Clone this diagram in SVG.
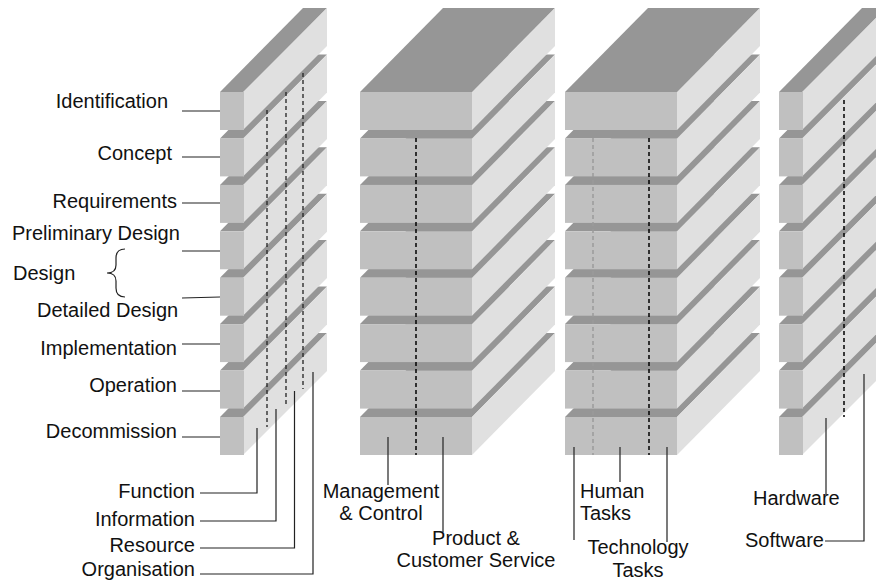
<svg xmlns="http://www.w3.org/2000/svg" width="876" height="581" viewBox="0 0 876 581">
  <style>
    .front { fill: #c0c0c0; }
    .top { fill: #969696; }
    .side { fill: #e0e0e0; }
    .lbl { font-family: "Liberation Sans", Arial, sans-serif; font-size: 20px; fill: #111; }
    .lead { stroke: #222; stroke-width: 1.2; fill: none; }
    .dash { stroke: #222; stroke-width: 1.3; stroke-dasharray: 4 3; fill: none; }
    .dash-k { stroke: #000; stroke-width: 1.5; stroke-dasharray: 4 3; fill: none; }
    .dash-g { stroke: #9a9a9a; stroke-width: 1.5; stroke-dasharray: 4 3; fill: none; }
  </style>
  <defs>
    <!-- narrow slab: front 23 wide, 38 high, depth 83 at 45 degrees -->
    <g id="slabN">
      <polygon class="top" points="0,0 83,-84 107,-84 24,0"/>
      <polygon class="side" points="23,0 107,-84 107,-46 23,38"/>
      <rect class="front" x="0" y="0" width="24" height="38"/>
    </g>
    <!-- wide slab: front 112 wide -->
    <g id="slabW">
      <polygon class="top" points="0,0 83,-84 195,-84 112,0"/>
      <polygon class="side" points="112,0 195,-84 195,-46 112,38"/>
      <rect class="front" x="0" y="0" width="112" height="38"/>
    </g>
  </defs>

  <!-- column 1: life cycle phases, four views -->
  <g id="col-phases">
    <use href="#slabN" x="220" y="417"/>
    <use href="#slabN" x="220" y="370.6"/>
    <use href="#slabN" x="220" y="324.1"/>
    <use href="#slabN" x="220" y="277.7"/>
    <use href="#slabN" x="220" y="231.3"/>
    <use href="#slabN" x="220" y="184.9"/>
    <use href="#slabN" x="220" y="138.4"/>
    <use href="#slabN" x="220" y="92"/>
    <line class="dash" x1="267" y1="110" x2="267" y2="427"/>
    <line class="dash" x1="286" y1="92" x2="286" y2="407"/>
    <line class="dash" x1="303" y1="73" x2="303" y2="389"/>
  </g>

  <!-- column 2: management / customer service -->
  <g id="col-purpose">
    <use href="#slabW" x="360" y="417"/>
    <use href="#slabW" x="360" y="370.6"/>
    <use href="#slabW" x="360" y="324.1"/>
    <use href="#slabW" x="360" y="277.7"/>
    <use href="#slabW" x="360" y="231.3"/>
    <use href="#slabW" x="360" y="184.9"/>
    <use href="#slabW" x="360" y="138.4"/>
    <use href="#slabW" x="360" y="92"/>
    <line class="dash-k" x1="416" y1="138" x2="416" y2="455"/>
  </g>

  <!-- column 3: human / technology tasks -->
  <g id="col-tasks">
    <use href="#slabW" x="565" y="417"/>
    <use href="#slabW" x="565" y="370.6"/>
    <use href="#slabW" x="565" y="324.1"/>
    <use href="#slabW" x="565" y="277.7"/>
    <use href="#slabW" x="565" y="231.3"/>
    <use href="#slabW" x="565" y="184.9"/>
    <use href="#slabW" x="565" y="138.4"/>
    <use href="#slabW" x="565" y="92"/>
    <line class="dash-g" x1="593" y1="138" x2="593" y2="455"/>
    <line class="dash-k" x1="649" y1="138" x2="649" y2="455"/>
  </g>

  <!-- column 4: hardware / software -->
  <g id="col-implementation">
    <use href="#slabN" x="779" y="417"/>
    <use href="#slabN" x="779" y="370.6"/>
    <use href="#slabN" x="779" y="324.1"/>
    <use href="#slabN" x="779" y="277.7"/>
    <use href="#slabN" x="779" y="231.3"/>
    <use href="#slabN" x="779" y="184.9"/>
    <use href="#slabN" x="779" y="138.4"/>
    <use href="#slabN" x="779" y="92"/>
    <line class="dash-k" x1="844" y1="100" x2="844" y2="417"/>
  </g>

  <!-- leader lines -->
  <g id="connectors">
    <line class="lead" x1="182" y1="111" x2="220" y2="111"/>
    <line class="lead" x1="182" y1="157" x2="220" y2="157"/>
    <line class="lead" x1="182" y1="203" x2="220" y2="203"/>
    <line class="lead" x1="182" y1="251" x2="220" y2="251"/>
    <line class="lead" x1="182" y1="298" x2="220" y2="297"/>
    <line class="lead" x1="182" y1="344" x2="220" y2="344"/>
    <line class="lead" x1="182" y1="391" x2="220" y2="391"/>
    <line class="lead" x1="182" y1="437" x2="220" y2="437"/>
    <path class="lead" d="M125,249 Q116,249 116,258 L116,265 Q116,273 107,273 Q116,273 116,281 L116,288 Q116,297 125,297"/>

    <polyline class="lead" points="257,428 257,493 200,493"/>
    <polyline class="lead" points="276,409 276,521 200,521"/>
    <polyline class="lead" points="294.5,391 294.5,548 200,548"/>
    <polyline class="lead" points="313,372 313,574 200,574"/>

    <line class="lead" x1="388" y1="437" x2="388" y2="485"/>
    <line class="lead" x1="443" y1="437" x2="443" y2="532"/>

    <line class="lead" x1="574" y1="447" x2="574" y2="540"/>
    <line class="lead" x1="620" y1="447" x2="620" y2="482"/>
    <line class="lead" x1="667" y1="447" x2="667" y2="542"/>

    <line class="lead" x1="826" y1="418" x2="826" y2="495"/>
    <polyline class="lead" points="864,374 864,541 825,541"/>
  </g>

  <!-- labels -->
  <g id="labels-phases" class="lbl">
    <text x="168" y="108" text-anchor="end">Identification</text>
    <text x="172" y="160" text-anchor="end">Concept</text>
    <text x="177" y="208" text-anchor="end">Requirements</text>
    <text x="12" y="240">Preliminary Design</text>
    <text x="13" y="280">Design</text>
    <text x="37" y="317">Detailed Design</text>
    <text x="177" y="355" text-anchor="end">Implementation</text>
    <text x="177" y="392" text-anchor="end">Operation</text>
    <text x="177" y="438" text-anchor="end">Decommission</text>
  </g>
  <g id="labels-views" class="lbl">
    <text x="195" y="498" text-anchor="end">Function</text>
    <text x="195" y="526" text-anchor="end">Information</text>
    <text x="195" y="552" text-anchor="end">Resource</text>
    <text x="195" y="576" text-anchor="end">Organisation</text>
  </g>
  <g id="labels-purpose" class="lbl">
    <text x="381" y="498" text-anchor="middle">Management</text>
    <text x="381" y="520" text-anchor="middle">&amp; Control</text>
    <text x="476" y="545" text-anchor="middle">Product &amp;</text>
    <text x="476" y="567" text-anchor="middle">Customer Service</text>
  </g>
  <g id="labels-tasks" class="lbl">
    <text x="580" y="498">Human</text>
    <text x="580" y="520">Tasks</text>
    <text x="638" y="554" text-anchor="middle">Technology</text>
    <text x="638" y="577" text-anchor="middle">Tasks</text>
  </g>
  <g id="labels-implementation" class="lbl">
    <text x="753" y="505">Hardware</text>
    <text x="745" y="547">Software</text>
  </g>
</svg>
